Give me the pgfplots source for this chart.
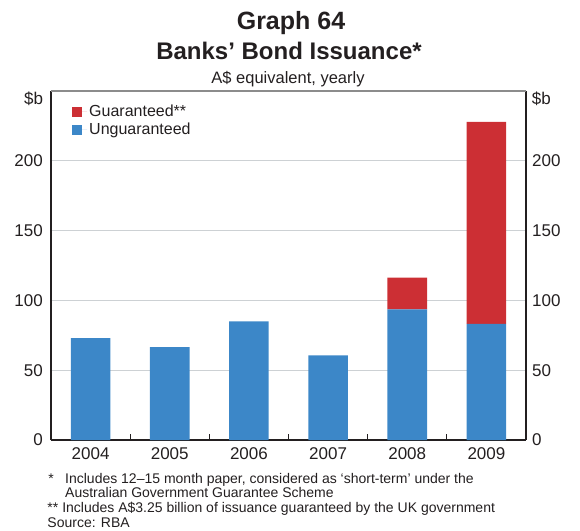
\documentclass[border=0pt]{standalone}
\usepackage{fontspec}
\setmainfont{Liberation Sans}
\usepackage{pgfplots}
\usepackage{pgfplotstable}
\pgfplotsset{compat=1.18}

\definecolor{rbared}{HTML}{CC2F34}
\definecolor{rbablue}{HTML}{3C87C8}
\definecolor{gridgrey}{HTML}{CDD1D4}
\definecolor{frametop}{HTML}{8C8C8C}
\definecolor{ink}{HTML}{231F20}

% yearly issuance, $b (x = 0 is 2004)
\pgfplotstableread{
x  ung   gua
0  73.0  0
1  66.5  0
2  85.0  0
3  60.7  0
4  93.6  22.8
5  83.2  144.7
}\issuance

\begin{document}
\begin{tikzpicture}[every node/.style={text=ink}]
\begin{axis}[
  name=main,
  scale only axis, width=475pt, height=349pt,
  xmin=-0.5, xmax=5.5, ymin=0, ymax=250,
  ybar stacked, bar width=0.5,
  axis x line*=bottom, axis y line*=box,
  axis line style={-, ink, line width=1.1pt},
  xtick={0,...,5},
  xticklabels={2004,2005,2006,2007,2008,2009},
  minor xtick={0.5,1.5,2.5,3.5,4.5},
  major x tick style={draw=none},
  minor x tick style={ink, line width=1pt},
  minor tick length=6.5pt,
  tick align=inside,
  ytick={0,50,100,150,200},
  major y tick style={draw=none},
  /pgf/number format/assume math mode=true,
  ymajorgrids, grid style={gridgrey, line width=1pt},
  ticklabel style={font=\fontsize{17}{20}\selectfont},
  xticklabel style={inner sep=0pt, yshift=-7pt},
  yticklabel style={inner sep=0pt, xshift=-8pt},
  legend style={draw=none, fill=none, at={(0,1)}, anchor=north west,
    xshift=21pt, yshift=-12pt, font=\fontsize{16}{18}\selectfont,
    row sep=1pt, inner sep=0pt, cells={anchor=west}},
  legend image code/.code={\fill[#1] (0pt,-5pt) rectangle (10pt,5pt); \path (0pt,0pt) -- (15pt,0pt);},
  reverse legend,
]
\addplot[fill=rbablue, draw=none] table[x=x, y=ung] {\issuance};
\addplot[fill=rbared, draw=none] table[x=x, y=gua] {\issuance};
\legend{Unguaranteed, Guaranteed**}
\end{axis}
\begin{axis}[
  scale only axis, width=475pt, height=349pt,
  xmin=-0.5, xmax=5.5, ymin=0, ymax=250,
  hide x axis, axis y line*=right,
  axis line style={draw=none},
  ytick={0,50,100,150,200},
  major y tick style={draw=none},
  /pgf/number format/assume math mode=true,
  ticklabel style={font=\fontsize{17}{20}\selectfont},
  yticklabel style={inner sep=0pt, xshift=6pt},
]
\end{axis}
\begin{scope}[shift={([xshift=-51pt,yshift=440pt]main.south west)}, x=1pt, y=-1pt]
  \path[use as bounding box] (0,0) rectangle (580,530);
  \draw[frametop, line width=1.5pt] (51,91) -- (526,91);
  \node[anchor=base, inner sep=0pt, font=\bfseries\fontsize{25}{28}\selectfont] at (291,29.3) {Graph 64};
  \node[anchor=base, inner sep=0pt, font=\bfseries\fontsize{24}{28}\selectfont] at (289,59.3) {Banks’ Bond Issuance*};
  \node[anchor=base, inner sep=0pt, font=\fontsize{16.5}{19}\selectfont] at (288,83.3) {A\$ equivalent, yearly};
  \node[anchor=base east, inner sep=0pt, font=\fontsize{17}{20}\selectfont] at (43.3,105) {\$b};
  \node[anchor=base west, inner sep=0pt, font=\fontsize{17}{20}\selectfont] at (531.7,105) {\$b};
  \begin{scope}[every node/.style={anchor=base west, inner sep=0pt, text=ink, font=\fontsize{14}{16}\selectfont}]
    \node at (48.3,483.3) {*};
    \node at (65,483.3) {Includes 12–15 month paper, considered as ‘short-term’ under the};
    \node at (65,497.7) {Australian Government Guarantee Scheme};
    \node at (47.3,512.3) {** Includes A\$3.25 billion of issuance guaranteed by the UK government};
    \node at (47.3,527.3) {Source: RBA};
  \end{scope}
\end{scope}
\end{tikzpicture}
\end{document}
